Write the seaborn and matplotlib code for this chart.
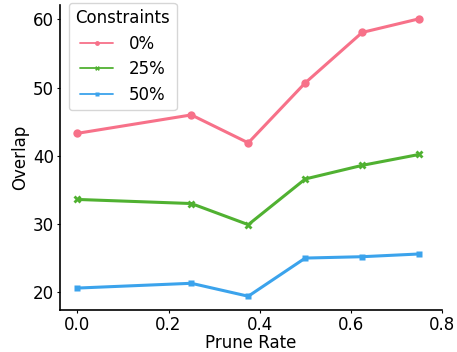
import pandas as pd
import seaborn as sns
import matplotlib.pyplot as plt

# valores
prune_rate = [0.0, 0.25, 0.375, 0.5, 0.625, 0.75]
constraints = ['0%', '25%', '50%']
overlap_0 = [43.3, 46.0, 41.9, 50.7, 58.1, 60.1]
overlap_25 = [33.6, 33.0, 29.9, 36.6, 38.6, 40.2]
overlap_50 = [20.6, 21.3, 19.4, 25.0, 25.2, 25.6]
xticks = [0.0, 0.2, 0.4, 0.6, 0.8]
yticks = [20, 30, 40, 50, 60]

data = pd.DataFrame({
    'Prune Rate': prune_rate * 3,
    'Overlap': overlap_0 + overlap_25 + overlap_50,
    'Constraints': [c for c in constraints for _ in prune_rate],
})

custom_params = {"axes.spines.right": False, "axes.spines.top": False,
                 "text.color": "black", "axes.labelcolor": "black",
                 "xtick.color": "black", "ytick.color": "black"}
sns.set_theme(style="white", rc=custom_params)
plt.rcParams['font.family'] = ['DejaVu Sans']

fig = plt.figure(figsize=(4.57, 3.52), dpi=100)
ax = fig.add_axes([0.132, 0.119, 0.835, 0.867])

g = sns.lineplot(data=data, x='Prune Rate', y='Overlap', hue='Constraints',
                 style='Constraints', markers=True, dashes=False,
                 palette='husl', linewidth=2.2, markersize=6,
                 markeredgecolor='none', ax=ax)

g.set_xticks(xticks)
g.set_yticks(yticks)
g.set_xlim(-0.0375, 0.8)
g.set_xlabel('Prune Rate', fontsize=12, labelpad=0)
g.set_ylabel('Overlap', fontsize=12, labelpad=3)
g.tick_params(axis='both', labelsize=12, length=2.5, width=0.8, pad=2,
              bottom=True, left=True)
for s in ['left', 'bottom']:
    g.spines[s].set_color('black')
    g.spines[s].set_linewidth(1.2)

leg = g.legend(title='Constraints', loc='upper left', fontsize=12,
               title_fontsize=12, bbox_to_anchor=(0.0, 1.035),
               handlelength=2.0, handletextpad=0.9, labelspacing=0.45)
# handles da legenda mais finos, como no original
for h in leg.legend_handles:
    h.set_linewidth(1.3)
    h.set_markersize(3.5)

plt.savefig('out.png', dpi=100)
